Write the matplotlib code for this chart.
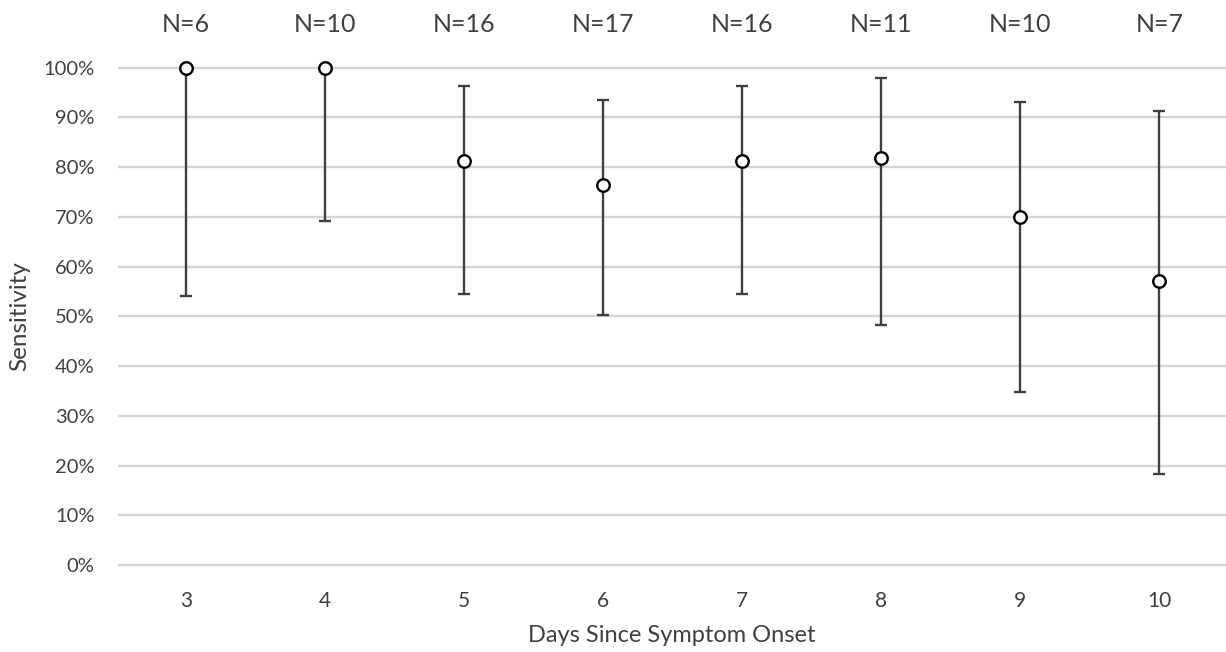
import numpy as np
import matplotlib.pyplot as plt

# sensitivity by days since symptom onset
days = ["3", "4", "5", "6", "7", "8", "9", "10"]
n_counts = [6, 10, 16, 17, 16, 11, 10, 7]
sens = [1.0, 1.0, 0.8125, 0.765, 0.8125, 0.818, 0.70, 0.571]
ci_low = [0.541, 0.692, 0.544, 0.502, 0.544, 0.482, 0.348, 0.184]
ci_high = [1.0, 1.0, 0.963, 0.936, 0.963, 0.979, 0.930, 0.913]
yticks = np.arange(0, 1.01, 0.1)

plt.rcParams['font.family'] = ['Lato', 'DejaVu Sans']
txt = "#404040"

W, H = 1226, 652
fig = plt.figure(figsize=(W / 100, H / 100), dpi=100)
# axes placed so 0% sits at y=565px and 100% at y=68px
ax = fig.add_axes([118 / W, 82 / H, 1108 / W, 507.3 / H])

x = np.arange(len(days))
s = np.array(sens)
err = [s - np.array(ci_low), np.array(ci_high) - s]
ax.errorbar(x, s, yerr=err, fmt='o', color=txt, ecolor=txt, elinewidth=1.7,
            capsize=4.5, capthick=1.7, markersize=9, markerfacecolor='white',
            markeredgecolor='black', markeredgewidth=1.7, zorder=3, clip_on=False)

ax.set_xlim(-0.49, 7.48)
ax.set_ylim(-0.01, 1.01)
ax.set_yticks(yticks)
ax.set_yticklabels([f"{int(round(v * 100))}%" for v in yticks])
ax.set_xticks(x)
ax.set_xticklabels(days)
ax.yaxis.grid(True, color="#d4d4d4", linewidth=1.7)
ax.set_axisbelow(True)
for sp in ax.spines.values():
    sp.set_visible(False)
ax.tick_params(axis='both', length=0, colors=txt)
ax.tick_params(axis='y', pad=17, labelsize=14.5)
ax.tick_params(axis='x', pad=15, labelsize=15)

for i, n in enumerate(n_counts):
    ax.annotate(f"N={n}", xy=(x[i], (H - 24) / H), xycoords=('data', 'figure fraction'),
                ha='center', va='center', fontsize=18, color=txt)

ax.set_xlabel("Days Since Symptom Onset", fontsize=17, color=txt)
ax.xaxis.label.set_va('center')
ax.xaxis.set_label_coords(0.5, (570 - 635) / 507.3)
ax.set_ylabel("Sensitivity", fontsize=17.5, color=txt)
ax.yaxis.label.set_va('center')
ax.yaxis.set_label_coords((20 - 118) / 1108, 0.5)

fig.savefig("out.png", dpi=100)
